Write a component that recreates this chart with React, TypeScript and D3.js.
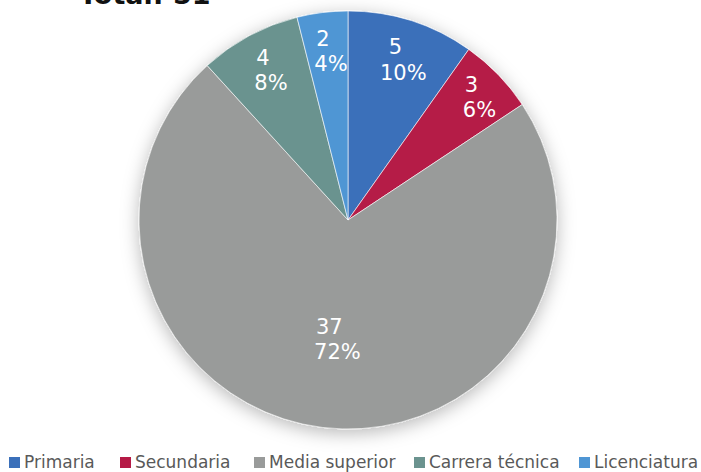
import React, { useEffect, useRef } from 'react';
import * as d3 from 'd3';

const categories = ['Primaria', 'Secundaria', 'Media superior', 'Carrera técnica', 'Licenciatura'];
const counts = [5, 3, 37, 4, 2];
const pctLabels = ['10%', '6%', '72%', '8%', '4%'];
const colors = ['#3b70ba', '#b51a46', '#999b9a', '#6b938f', '#4f96d4'];
const totalLabel = 'Total: 51';

// label distance from center as a fraction of the radius (Excel "best fit")
const labelRadius = [0.81, 0.85, 0.57, 0.82, 0.82];
const legendX = [9, 120, 254, 414, 579];

const App: React.FC = () => {
  const svgRef = useRef<SVGSVGElement>(null);
  const width = 701;
  const height = 472;

  useEffect(() => {
    if (!svgRef.current) return;
    const svg = d3.select(svgRef.current);
    svg.selectAll('*').remove();

    const cx = 348;
    const cy = 220;
    const r = 209;

    // soft shadow under the pie
    const defs = svg.append('defs');
    const filter = defs.append('filter')
      .attr('id', 'pieShadow')
      .attr('x', '-20%').attr('y', '-20%')
      .attr('width', '140%').attr('height', '140%');
    filter.append('feDropShadow')
      .attr('dx', 0)
      .attr('dy', 4)
      .attr('stdDeviation', 9)
      .attr('flood-color', '#000')
      .attr('flood-opacity', 0.28);

    const pie = d3.pie<number>().sort(null).value(d => d);
    const arcs = pie(counts);
    const arc = d3.arc<d3.PieArcDatum<number>>().innerRadius(0).outerRadius(r);

    const g = svg.append('g').attr('transform', `translate(${cx},${cy})`);

    g.append('g')
      .attr('filter', 'url(#pieShadow)')
      .selectAll('path')
      .data(arcs)
      .enter()
      .append('path')
      .attr('d', arc)
      .attr('fill', (_, i) => colors[i])
      .attr('stroke', '#ffffff')
      .attr('stroke-width', 0.6);

    // data labels: count on top, percentage below
    arcs.forEach((a, i) => {
      const mid = (a.startAngle + a.endAngle) / 2;
      const lr = r * labelRadius[i];
      const x = lr * Math.sin(mid);
      const y = -lr * Math.cos(mid);
      const t = g.append('text')
        .attr('y', y)
        .attr('text-anchor', 'middle')
        .style('font-family', '"DejaVu Sans", sans-serif')
        .style('font-size', '21px')
        .style('fill', '#ffffff');
      t.append('tspan').attr('x', x - 4).attr('dy', '-0.2em').text(String(counts[i]));
      t.append('tspan').attr('x', x + 4).attr('dy', '1.2em').text(pctLabels[i]);
    });

    // title (cut off at the top, as in the original)
    svg.append('text')
      .attr('x', 79)
      .attr('y', 4)
      .style('font-family', '"DejaVu Sans", sans-serif')
      .style('font-weight', 'bold')
      .style('font-size', '27px')
      .style('fill', '#111')
      .text(totalLabel);

    // legend
    const legend = svg.append('g');
    categories.forEach((c, i) => {
      legend.append('rect')
        .attr('x', legendX[i])
        .attr('y', 457)
        .attr('width', 11)
        .attr('height', 11)
        .attr('fill', colors[i]);
      legend.append('text')
        .attr('x', legendX[i] + 15)
        .attr('y', 468)
        .style('font-family', '"DejaVu Sans", sans-serif')
        .style('font-size', '17px')
        .style('fill', '#595959')
        .text(c);
    });
  }, []);

  return (
    <div style={{ position: 'absolute', left: 0, top: 0 }}>
      <svg ref={svgRef} width={width} height={height} style={{ display: 'block', background: '#fff' }}></svg>
    </div>
  );
};

export default App;
